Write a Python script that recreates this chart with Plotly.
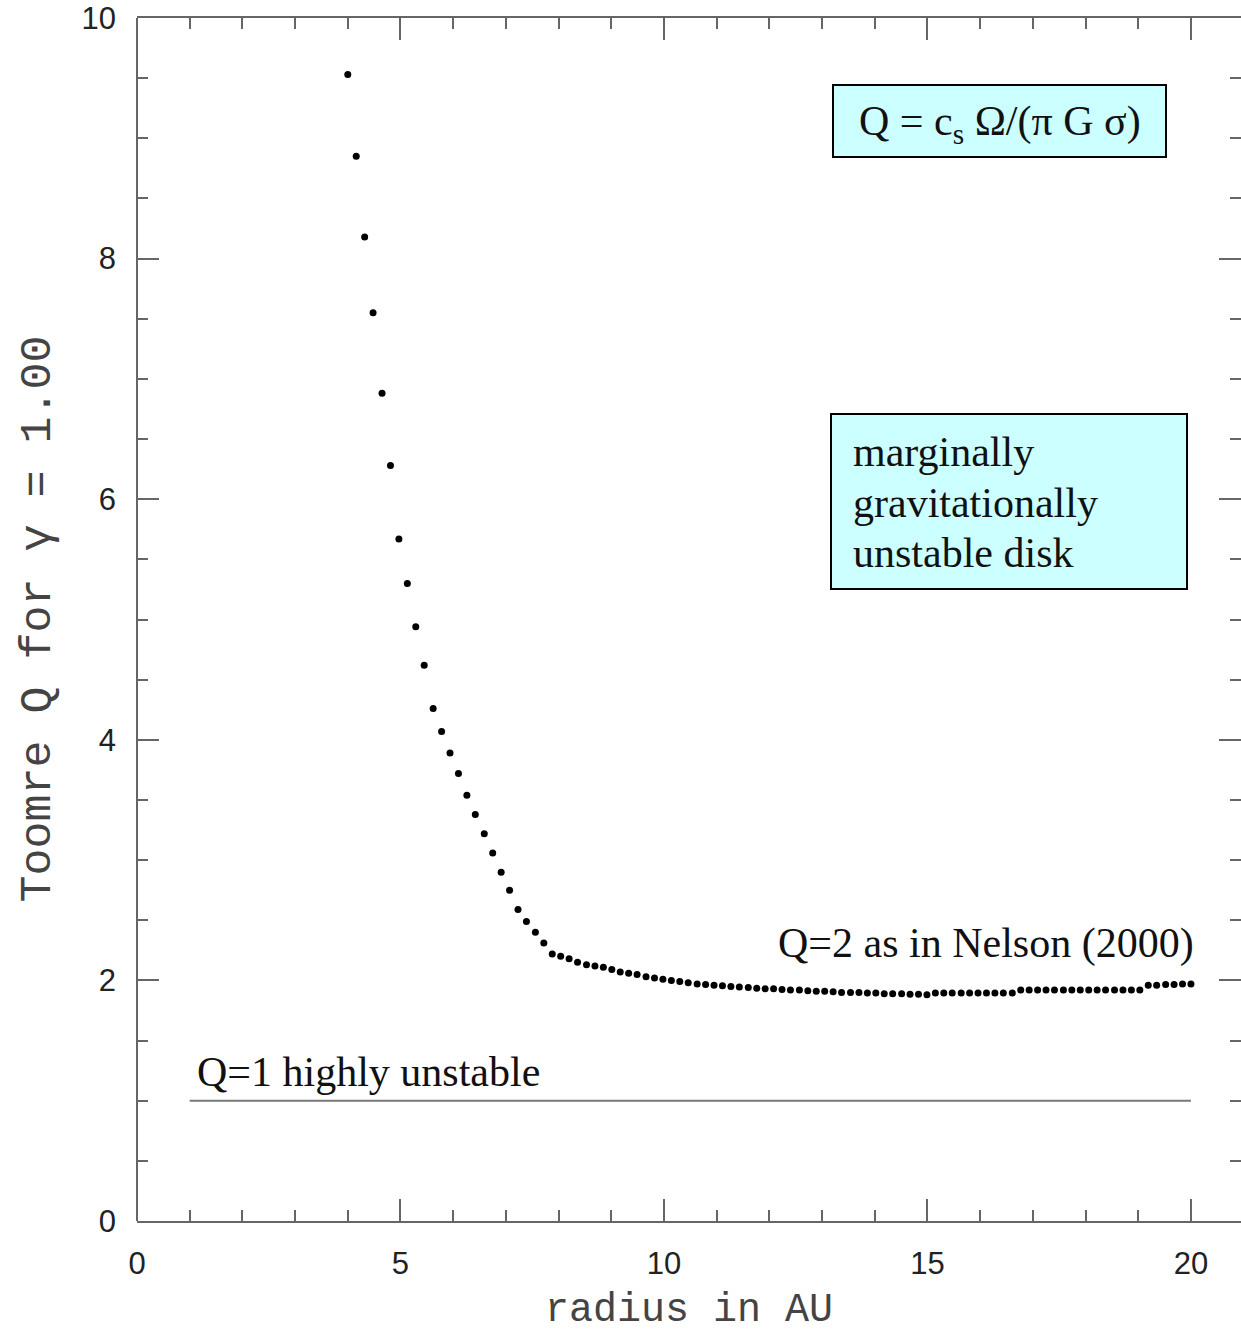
import plotly.graph_objects as go

# data
radius = [4.00, 4.16, 4.32, 4.48, 4.65, 4.81, 4.97, 5.13, 5.29, 5.45,
          5.62, 5.78, 5.94, 6.10, 6.26, 6.42, 6.59, 6.75, 6.91, 7.07,
          7.23, 7.39, 7.56, 7.72, 7.88, 8.04, 8.20, 8.36, 8.53, 8.69,
          8.85, 9.01, 9.17, 9.33, 9.49, 9.66, 9.82, 9.98, 10.14, 10.30,
          10.46, 10.63, 10.79, 10.95, 11.11, 11.27, 11.43, 11.60, 11.76, 11.92,
          12.08, 12.24, 12.40, 12.57, 12.73, 12.89, 13.05, 13.21, 13.37, 13.54,
          13.70, 13.86, 14.02, 14.18, 14.34, 14.51, 14.67, 14.83, 14.99, 15.15,
          15.31, 15.47, 15.64, 15.80, 15.96, 16.12, 16.28, 16.44, 16.61, 16.77,
          16.93, 17.09, 17.25, 17.41, 17.58, 17.74, 17.90, 18.06, 18.22, 18.38,
          18.55, 18.71, 18.87, 19.03, 19.19, 19.35, 19.52, 19.68, 19.84, 20.00]
toomre_q = [9.53, 8.85, 8.18, 7.55, 6.88, 6.28, 5.67, 5.30, 4.94, 4.62,
            4.26, 4.07, 3.89, 3.72, 3.54, 3.38, 3.22, 3.06, 2.90, 2.75,
            2.59, 2.49, 2.40, 2.31, 2.22, 2.20, 2.18, 2.15, 2.13, 2.12,
            2.11, 2.09, 2.07, 2.06, 2.05, 2.03, 2.02, 2.01, 2.00, 1.99,
            1.98, 1.97, 1.965, 1.96, 1.955, 1.95, 1.945, 1.94, 1.935, 1.93,
            1.93, 1.925, 1.92, 1.92, 1.915, 1.91, 1.91, 1.905, 1.90, 1.90,
            1.90, 1.895, 1.895, 1.89, 1.89, 1.89, 1.885, 1.885, 1.88, 1.895,
            1.895, 1.895, 1.895, 1.895, 1.895, 1.895, 1.895, 1.895, 1.895, 1.92,
            1.92, 1.92, 1.92, 1.92, 1.92, 1.92, 1.92, 1.92, 1.92, 1.92,
            1.92, 1.92, 1.92, 1.92, 1.96, 1.96, 1.965, 1.965, 1.97, 1.97]
q1_x = [1, 20]
q1_y = [1, 1]

W, H = 1241, 1335
L, R, T, B = 137, 0, 18, 114
XR = [0, 20.95]
YR = [0, 10]


def px_x(p):
    return XR[0] + (p - L) / (W - L - R) * (XR[1] - XR[0])


def px_y(p):
    return YR[1] - (p - T) / (H - T - B) * (YR[1] - YR[0])


fig = go.Figure()
fig.add_trace(go.Scatter(x=q1_x, y=q1_y, mode="lines",
                         line=dict(color="#777777", width=2),
                         showlegend=False, hoverinfo="skip"))
fig.add_trace(go.Scatter(x=radius, y=toomre_q, mode="markers",
                         marker=dict(symbol="circle", size=7, color="black", line=dict(width=0)),
                         showlegend=False))

serif = "Liberation Serif, Times New Roman, serif"
tc = "#111111"

annos = []
annos.append(dict(x=px_x(195), y=px_y(1072), text="Q=1 highly unstable",
                  xanchor="left", yanchor="middle", showarrow=False,
                  font=dict(family=serif, size=42, color=tc)))
annos.append(dict(x=px_x(1196), y=px_y(943), text="Q=2 as in Nelson (2000)",
                  xanchor="right", yanchor="middle", showarrow=False,
                  font=dict(family=serif, size=42, color=tc)))
annos.append(dict(x=px_x(1000), y=px_y(124), text="Q = c<sub>s</sub> \u03a9/(\u03c0 G \u03c3)",
                  xanchor="center", yanchor="middle", showarrow=False,
                  font=dict(family=serif, size=42, color=tc)))
for txt, cy in [("marginally", 452), ("gravitationally", 503), ("unstable disk", 553)]:
    annos.append(dict(x=px_x(851), y=px_y(cy), text=txt,
                      xanchor="left", yanchor="middle", showarrow=False,
                      font=dict(family=serif, size=42, color=tc)))

mono = "Liberation Mono, Courier New, monospace"
annos.append(dict(xref="paper", yref="paper", x=0.5, y=-(1310 - (H - B)) / (H - T - B),
                  text="radius in AU", xanchor="center", yanchor="middle", showarrow=False,
                  font=dict(family=mono, size=40, color="#444444")))
annos.append(dict(xref="paper", yref="paper", x=-(L - 38) / (W - L - R), y=0.5,
                  text="Toomre Q for \u03b3 = 1.00", textangle=-90,
                  xanchor="center", yanchor="middle", showarrow=False,
                  font=dict(family=mono, size=45, color="#444444")))

shapes = [
    dict(type="rect", xref="x", yref="y", x0=px_x(833), x1=px_x(1166), y0=px_y(157), y1=px_y(85),
         fillcolor="#ccffff", line=dict(color="black", width=2), layer="below"),
    dict(type="rect", xref="x", yref="y", x0=px_x(831), x1=px_x(1187), y0=px_y(589), y1=px_y(414),
         fillcolor="#ccffff", line=dict(color="black", width=2), layer="below"),
    dict(type="line", xref="paper", yref="paper", x0=0, x1=0, y0=0, y1=1,
         line=dict(color="#666666", width=2)),
]

axcol = "#666666"
tickfont = dict(family="Liberation Sans, Arial, sans-serif", size=31, color="#222222")
fig.update_layout(
    width=W, height=H,
    margin=dict(l=L, r=R, t=T, b=B),
    paper_bgcolor="white", plot_bgcolor="white",
    annotations=annos, shapes=shapes,
    xaxis=dict(range=XR, showgrid=False, zeroline=False,
               showline=True, linecolor=axcol, linewidth=2, mirror="ticks",
               ticks="inside", ticklen=22, tickwidth=2, tickcolor=axcol,
               tick0=0, dtick=5, ticklabelstandoff=14, tickfont=tickfont,
               minor=dict(ticks="inside", ticklen=11, tickwidth=2, tickcolor=axcol, dtick=1, showgrid=False)),
    yaxis=dict(range=YR, showgrid=False, zeroline=False,
               showline=False, mirror="ticks",
               ticks="inside", ticklen=22, tickwidth=2, tickcolor=axcol,
               tick0=0, dtick=2, ticklabelstandoff=20, tickfont=tickfont,
               minor=dict(ticks="inside", ticklen=11, tickwidth=2, tickcolor=axcol, dtick=0.5, showgrid=False)),
)

fig.write_html("out.html")
